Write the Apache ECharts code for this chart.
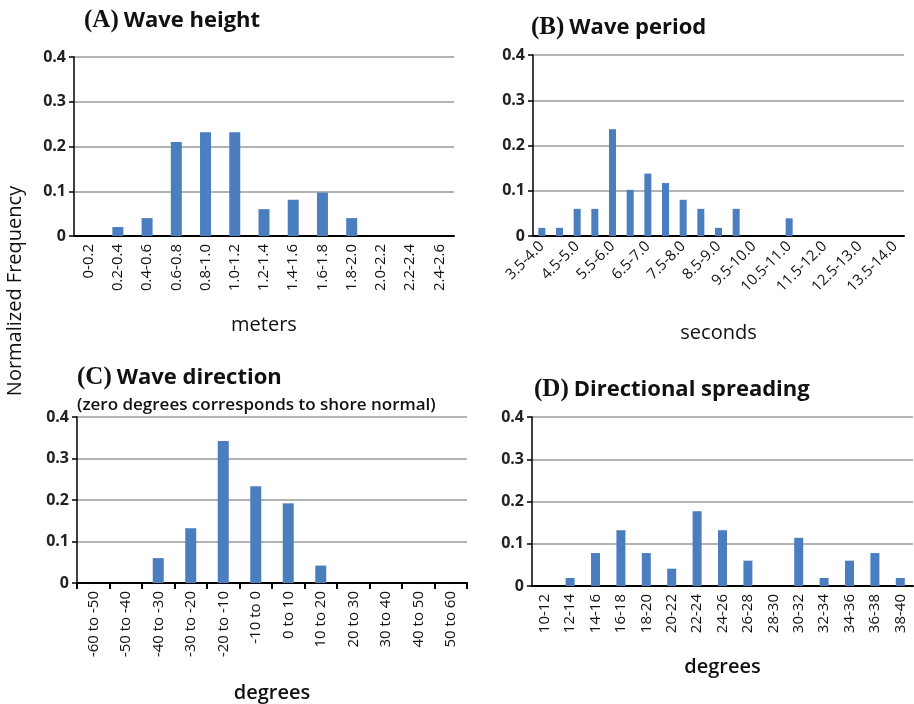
<!DOCTYPE html>
<html>
<head>
<meta charset="utf-8">
<script src="https://cdn.jsdelivr.net/npm/echarts@6/dist/echarts.min.js"></script>
<style>html,body{margin:0;padding:0;background:#fff;}#c{width:914px;height:704px;}</style>
</head>
<body>
<div id="c"></div>
<script>
// ---- data ----
const heightCats = ['0-0.2','0.2-0.4','0.4-0.6','0.6-0.8','0.8-1.0','1.0-1.2','1.2-1.4','1.4-1.6','1.6-1.8','1.8-2.0','2.0-2.2','2.2-2.4','2.4-2.6'];
const heightVals = [0, 0.02, 0.04, 0.21, 0.232, 0.232, 0.06, 0.081, 0.097, 0.04, 0, 0, 0];

const periodCats = ['3.5-4.0','4.0-4.5','4.5-5.0','5.0-5.5','5.5-6.0','6.0-6.5','6.5-7.0','7.0-7.5','7.5-8.0','8.0-8.5','8.5-9.0','9.0-9.5','9.5-10.0','10.0-10.5','10.5-11.0','11.0-11.5','11.5-12.0','12.0-12.5','12.5-13.0','13.0-13.5','13.5-14.0'];
const periodVals = [0.018, 0.018, 0.06, 0.06, 0.236, 0.102, 0.138, 0.117, 0.08, 0.06, 0.018, 0.06, 0, 0, 0.039, 0, 0, 0, 0, 0, 0];

const dirCats = ['-60 to -50','-50 to -40','-40 to -30','-30 to -20','-20 to -10','-10 to 0','0 to 10','10 to 20','20 to 30','30 to 40','40 to 50','50 to 60'];
const dirVals = [0, 0, 0.06, 0.132, 0.342, 0.233, 0.192, 0.042, 0, 0, 0, 0];

const spreadCats = ['10-12','12-14','14-16','16-18','18-20','20-22','22-24','24-26','26-28','28-30','30-32','32-34','34-36','36-38','38-40'];
const spreadVals = [0, 0.019, 0.078, 0.132, 0.078, 0.041, 0.177, 0.132, 0.06, 0, 0.114, 0.019, 0.06, 0.078, 0.019];

const yTicks = {min: 0, max: 0.4, interval: 0.1};
const panelTitles = [['(A)', 'Wave height'], ['(B)', 'Wave period'], ['(C)', 'Wave direction'], ['(D)', 'Directional spreading']];
const axisNames = ['meters', 'seconds', 'degrees', 'degrees'];
const yAxisTitle = 'Normalized Frequency';
const dirSubtitle = '(zero degrees corresponds to shore normal)';

// ---- styles ----
const SANS = '"Open Sans", "DejaVu Sans", sans-serif';
const SERIF = '"Liberation Serif", "DejaVu Serif", serif';
const BAR = '#4a7ebf';

const grids = [
  {left: 74, top: 57, width: 380, height: 179},
  {left: 533, top: 55, width: 371, height: 181},
  {left: 77, top: 417, width: 390, height: 167},
  {left: 532, top: 417, width: 381, height: 169}
];
const cats = [heightCats, periodCats, dirCats, spreadCats];
const vals = [heightVals, periodVals, dirVals, spreadVals];
const rotates = [90, 45, 90, 90];
const intervals = [0, 1, 0, 0];
const nameGaps = [79, 87, 100, 71];
const nameWeights = ['normal', 'normal', 600, 600];
const barWidths = [11, 7, 11, 9];
const titleTops = [3, 10, 360, 372];
const titleLefts = [79, 526, 72, 529];

const option = {
  animation: false,
  backgroundColor: '#fff',
  title: panelTitles.map((t, i) => ({
    text: '{s|' + t[0] + '} {b|' + t[1] + '}',
    left: titleLefts[i], top: titleTops[i],
    textStyle: {
      rich: {
        s: {fontFamily: SERIF, fontWeight: 'bold', fontSize: 25, color: '#111'},
        b: {fontFamily: SANS, fontWeight: 'bold', fontSize: 22, color: '#111'}
      }
    }
  })).concat([{
    text: dirSubtitle, left: 72, top: 392,
    textStyle: {fontFamily: SANS, fontWeight: 600, fontSize: 17, color: '#111'}
  }]),
  graphic: [{
    type: 'text', x: 5, y: 291, rotation: Math.PI / 2,
    style: {text: yAxisTitle, font: '20px ' + SANS, fill: '#111', align: 'center', verticalAlign: 'top'}
  }],
  grid: grids,
  xAxis: cats.map((c, i) => ({
    type: 'category', gridIndex: i, data: c,
    axisLine: {lineStyle: {color: '#000', width: 2}},
    axisTick: {show: i === 2, alignWithLabel: false, length: 6, lineStyle: {color: '#000', width: 2}},
    axisLabel: {interval: intervals[i], rotate: rotates[i], fontFamily: SANS, fontSize: 15, color: '#111', margin: 8},
    name: axisNames[i], nameLocation: 'middle', nameGap: nameGaps[i],
    nameTextStyle: {fontFamily: SANS, fontSize: 20, fontWeight: nameWeights[i], color: '#111'}
  })),
  yAxis: cats.map((c, i) => ({
    type: 'value', gridIndex: i, min: yTicks.min, max: yTicks.max, interval: yTicks.interval,
    axisLine: {show: true, lineStyle: {color: '#000', width: 1.5}},
    axisTick: {show: true, length: 5, lineStyle: {color: '#000', width: 1.5}},
    axisLabel: {fontFamily: SANS, fontWeight: 'bold', fontSize: 16, color: '#222', margin: 8},
    splitLine: {lineStyle: {color: '#9a9a9a', width: 1.5}}
  })),
  series: vals.map((v, i) => ({
    type: 'bar', xAxisIndex: i, yAxisIndex: i, data: v,
    barWidth: barWidths[i], itemStyle: {color: BAR}
  }))
};
echarts.init(document.getElementById('c')).setOption(option);
</script>
</body>
</html>
